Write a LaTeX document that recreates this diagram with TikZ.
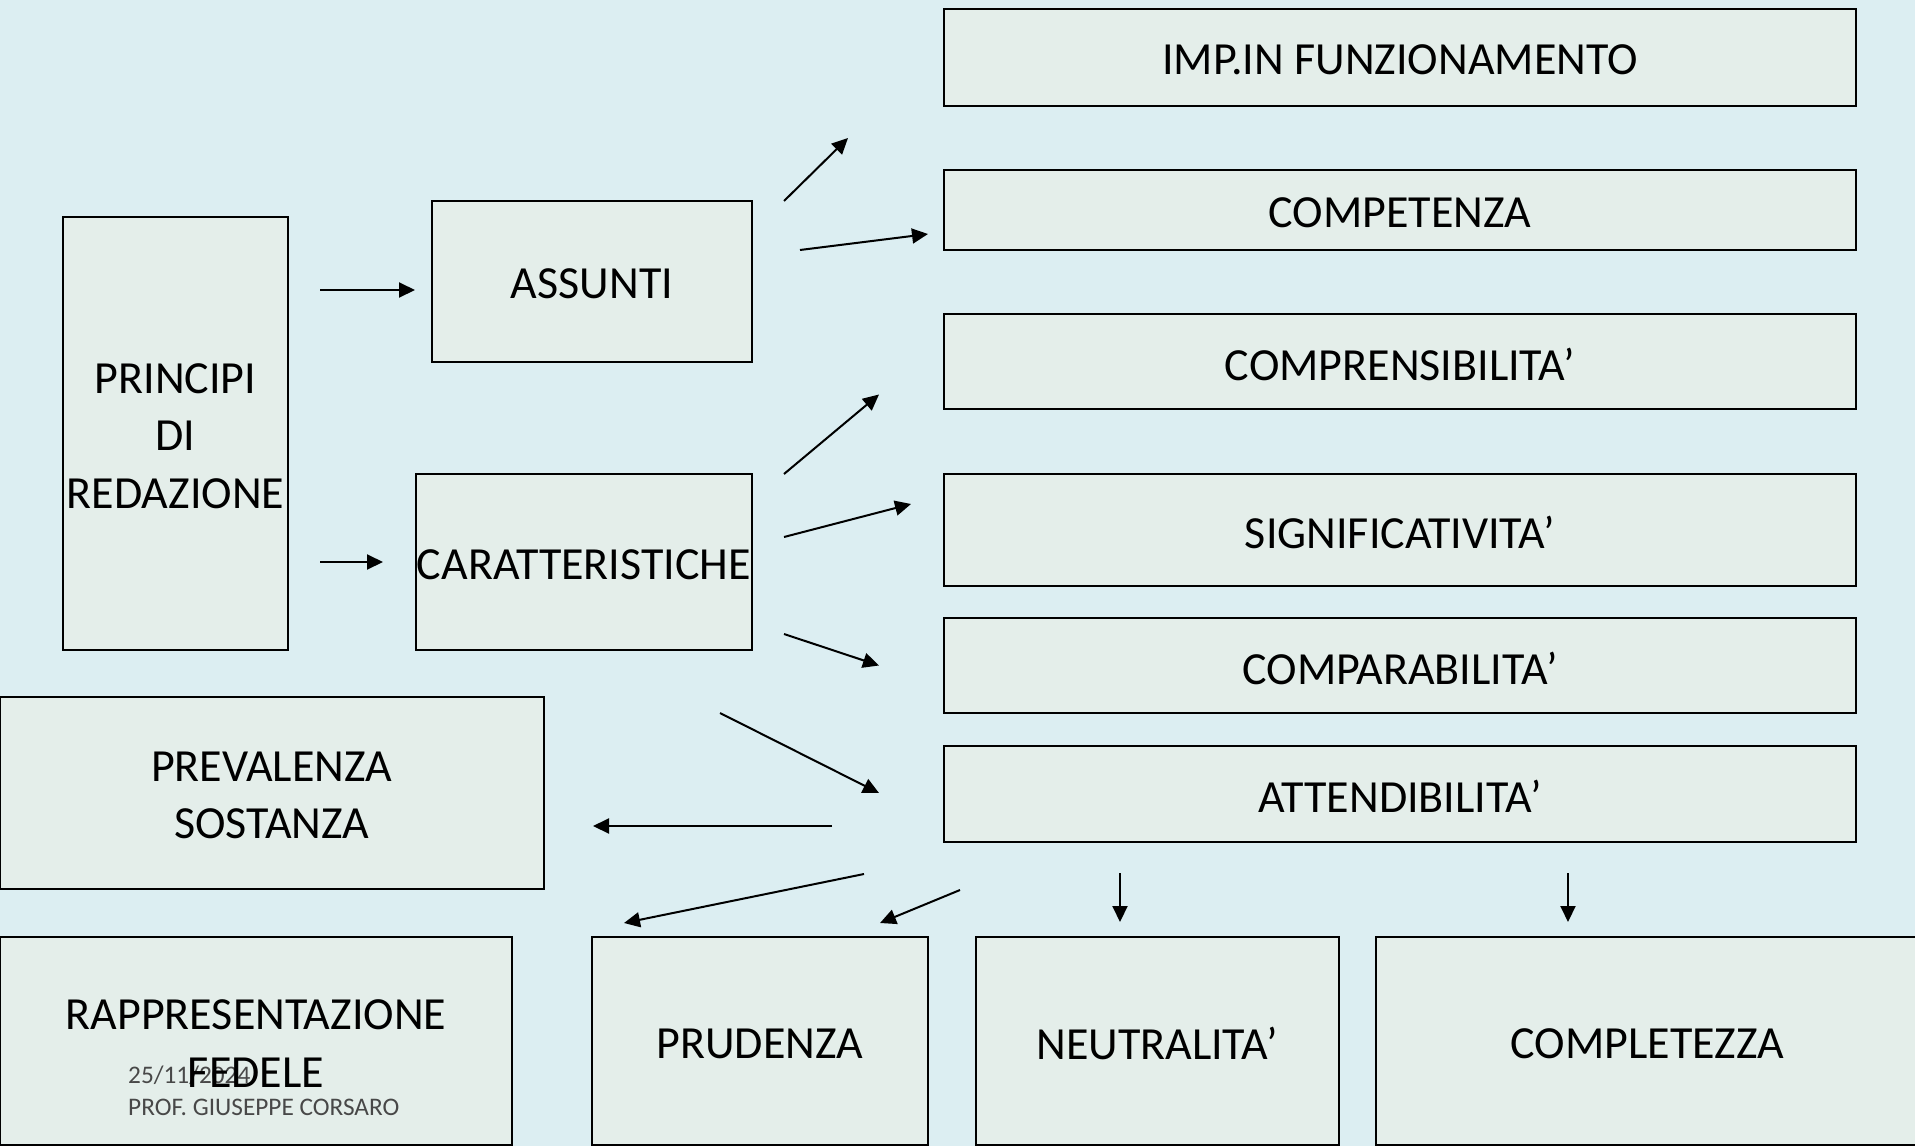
\documentclass[tikz,border=0pt]{standalone}
\usepackage{fontspec}
\setmainfont{Carlito}
\usetikzlibrary{arrows.meta}
\definecolor{bgcol}{RGB}{220,238,242}
\definecolor{boxfill}{RGB}{228,238,234}
\definecolor{footgray}{RGB}{72,72,72}
\tikzset{
  box/.style={draw=black, line width=2pt, fill=boxfill, rectangle, inner sep=0pt},
  txt/.style={inner sep=0pt, align=center, font=\fontsize{46}{57.4}\selectfont},
  arr/.style={line width=2pt, -{Triangle[length=16pt,width=15pt]}},
  foot/.style={inner sep=0pt, anchor=base west, text=footgray, font=\fontsize{25.3}{30}\selectfont}
}
\begin{document}
\begin{tikzpicture}[x=1pt,y=-1pt]
\useasboundingbox (0,0) rectangle (1915,1146);
\clip (0,0) rectangle (1915,1146);
\fill[bgcol] (0,0) rectangle (1915,1146);

% boxes: right column
\node[box, minimum width=912pt, minimum height=97pt] (imp) at (1400,57.5) {};
\node[box, minimum width=912pt, minimum height=80pt] (comp) at (1400,210) {};
\node[box, minimum width=912pt, minimum height=95pt] (compr) at (1400,361.5) {};
\node[box, minimum width=912pt, minimum height=112pt] (sign) at (1400,530) {};
\node[box, minimum width=912pt, minimum height=95pt] (compa) at (1400,665.5) {};
\node[box, minimum width=912pt, minimum height=96pt] (att) at (1400,794) {};
% boxes: left part
\node[box, minimum width=225pt, minimum height=433pt] (princ) at (175.5,433.5) {};
\node[box, minimum width=320pt, minimum height=161pt] (ass) at (592,281.5) {};
\node[box, minimum width=336.5pt, minimum height=176pt] (car) at (584,562) {};
\node[box, minimum width=543.5pt, minimum height=192pt] (prev) at (271.75,793) {};
% boxes: bottom row
\node[box, minimum width=512pt, minimum height=208pt] (rapp) at (256,1041) {};
\node[box, minimum width=336pt, minimum height=208pt] (prud) at (760,1041) {};
\node[box, minimum width=362.5pt, minimum height=208pt] (neut) at (1157.25,1041) {};
\node[box, minimum width=543pt, minimum height=208pt] (compl) at (1647.5,1041) {};

% footer
\node[foot] (date) at (128,1083) {25/11/2024};
\node[foot] (prof) at (128,1115) {PROF. GIUSEPPE CORSARO};

% box texts
\node[txt] (impT) at ([yshift=-2.5pt]imp.center) {IMP.IN FUNZIONAMENTO};
\node[txt] (compT) at ([yshift=-2.5pt]comp.center) {COMPETENZA};
\node[txt] (comprT) at ([yshift=-2.5pt]compr.center) {COMPRENSIBILITA’};
\node[txt] (signT) at ([yshift=-2.5pt]sign.center) {SIGNIFICATIVITA’};
\node[txt] (compaT) at ([yshift=-2.5pt]compa.center) {COMPARABILITA’};
\node[txt] (attT) at ([yshift=-2.5pt]att.center) {ATTENDIBILITA’};
\node[txt] (princT) at ([yshift=-2.5pt]princ.center) {PRINCIPI\\DI\\REDAZIONE};
\node[txt] (assT) at ([yshift=-2.5pt]ass.center) {ASSUNTI};
\node[txt] (carT) at ([yshift=-2.5pt]car.center) {CARATTERISTICHE};
\node[txt] (prevT) at ([yshift=-2.5pt]prev.center) {PREVALENZA\\SOSTANZA};
\node[txt] (rappT) at ([yshift=-2.5pt]rapp.center) {RAPPRESENTAZIONE\\FEDELE};
\node[txt] (prudT) at ([yshift=-2.5pt]prud.center) {PRUDENZA};
\node[txt] (neutT) at ([yshift=-2.5pt]neut.center) {NEUTRALITA’};
\node[txt] (complT) at ([yshift=-2.5pt]compl.center) {COMPLETEZZA};

% arrow end points
\coordinate (a1s) at (320,290);   \coordinate (a1e) at (415,290);
\coordinate (a2s) at (320,562);   \coordinate (a2e) at (383,562);
\coordinate (a3s) at (784,201);   \coordinate (a3e) at (848,138);
\coordinate (a4s) at (800,250);   \coordinate (a4e) at (928,234);
\coordinate (a5s) at (784,474);   \coordinate (a5e) at (879,394.5);
\coordinate (a6s) at (784,537);   \coordinate (a6e) at (911,504);
\coordinate (a7s) at (784,634);   \coordinate (a7e) at (879,665.5);
\coordinate (a8s) at (720,713);   \coordinate (a8e) at (879,793);
\coordinate (a9s) at (832,826);   \coordinate (a9e) at (593,826);
\coordinate (a10s) at (864,874);  \coordinate (a10e) at (624,923);
\coordinate (a11s) at (960,890);  \coordinate (a11e) at (880,923);
\coordinate (a12s) at (1120,873); \coordinate (a12e) at (1120,922);
\coordinate (a13s) at (1568,873); \coordinate (a13e) at (1568,922);

\draw[arr] (a1s) -- (a1e);
\draw[arr] (a2s) -- (a2e);
\draw[arr] (a3s) -- (a3e);
\draw[arr] (a4s) -- (a4e);
\draw[arr] (a5s) -- (a5e);
\draw[arr] (a6s) -- (a6e);
\draw[arr] (a7s) -- (a7e);
\draw[arr] (a8s) -- (a8e);
\draw[arr] (a9s) -- (a9e);
\draw[arr] (a10s) -- (a10e);
\draw[arr] (a11s) -- (a11e);
\draw[arr] (a12s) -- (a12e);
\draw[arr] (a13s) -- (a13e);
\end{tikzpicture}
\end{document}
